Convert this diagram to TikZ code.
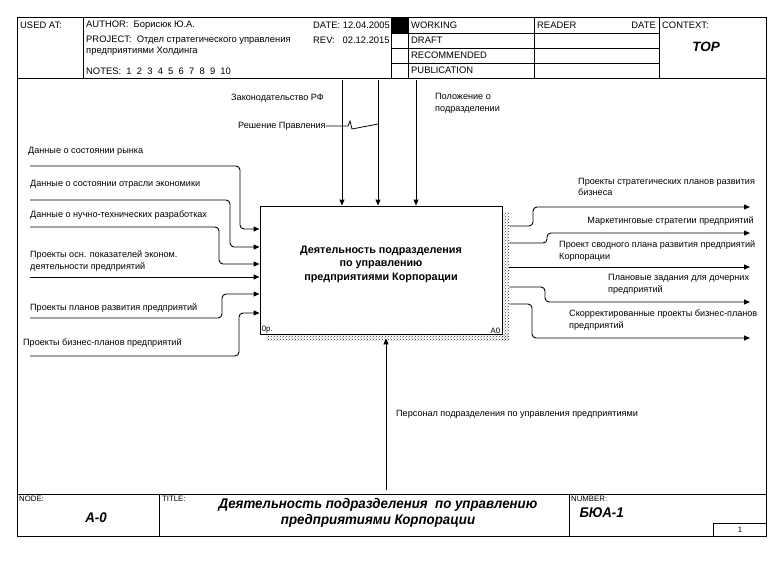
\documentclass[tikz,border=0pt]{standalone}
\usepackage{fontspec}
\setmainfont{Liberation Sans}
\newfontfamily\narrowfont[FakeStretch=0.95]{Liberation Sans}
\usetikzlibrary{arrows.meta,calc,patterns}

\tikzset{
  lbl/.style={font=\fontsize{9.1}{11.8}\selectfont, anchor=west, inner sep=0pt, align=left},
  hdr/.style={font=\fontsize{9.4}{10}\selectfont, anchor=west, inner sep=0pt},
  tiny/.style={font=\fontsize{7.8}{9}\selectfont, anchor=west, inner sep=0pt},
  bigital/.style={font=\narrowfont\fontsize{14}{16}\selectfont\bfseries\itshape},
  flow/.style={line width=0.9pt, rounded corners=4pt, -{Triangle[length=6pt,width=5pt]}},
  frame/.style={line width=0.9pt},
  actbox/.style={draw, line width=0.9pt, minimum width=242pt, minimum height=128pt, inner sep=0pt}
}

\begin{document}
\begin{tikzpicture}[x=1pt,y=-1pt]
\useasboundingbox (0,0) rectangle (784,560);

% Frame and header
\draw[frame] (17,17) rectangle (766,536);
\draw[frame] (17,78) -- (766,78);
\draw[frame] (17,494) -- (766,494);
\foreach \x in {83,391,408,534,659} \draw[frame] (\x,17) -- (\x,78);
\foreach \y in {33,48,63} \draw[frame] (391,\y) -- (659,\y);
\fill[black] (391,17) rectangle (408,33);

\node[hdr] (used) at (20,25) {USED AT:};
\node[hdr] (author) at (86,25) {AUTHOR:\ \ Борисюк Ю.А.};
\node[hdr] (project) at (86,40) {PROJECT:\ \ Отдел стратегического управления};
\node[hdr] (project2) at (86,51) {предприятиями Холдинга};
\node[hdr] (notes) at (86,71) {NOTES:\ \ 1\ \ 2\ \ 3\ \ 4\ \ 5\ \ 6\ \ 7\ \ 8\ \ 9\ \ 10};
\node[hdr] (date) at (313,25) {DATE: 12.04.2005};
\node[hdr] (rev) at (313,40) {REV:\ \ \ 02.12.2015};
\node[hdr] (working) at (411,25) {WORKING};
\node[hdr] (draft) at (411,40) {DRAFT};
\node[hdr] (recom) at (411,55) {RECOMMENDED};
\node[hdr] (public) at (411,70) {PUBLICATION};
\node[hdr] (reader) at (537,25) {READER};
\node[hdr, anchor=east] (rdate) at (656,25) {DATE};
\node[hdr] (context) at (662,25) {CONTEXT:};
\node[font=\fontsize{13.5}{15}\selectfont\bfseries\itshape] (top) at (706,47) {TOP};

% Footer
\foreach \x in {159,569} \draw[frame] (\x,494) -- (\x,536);
\draw[frame] (713,523) rectangle (766,536);
\node[tiny] (node) at (19,499) {NODE:};
\node[bigital] (nodeid) at (96,518) {А-0};
\node[tiny] (title) at (162,499) {TITLE:};
\node[bigital, align=center] (titletxt) at (378,513)
  {Деятельность подразделения\ \ по управлению\\предприятиями Корпорации};
\node[tiny] (number) at (571,499) {NUMBER:};
\node[bigital, anchor=west] (numid) at (576,513) {БЮА-1};
\node[tiny, anchor=center] (page) at (740,530) {1};

% Activity box with shadow
\fill[pattern=crosshatch dots, pattern color=black!80] (502,212) rectangle (509,340);
\fill[pattern=crosshatch dots, pattern color=black!80] (266,334) rectangle (509,340);
\node[actbox, fill=white] (act) at (381,270) {};
\node[font=\fontsize{10.8}{13.5}\selectfont\bfseries, align=center] (acttitle) at (381,264)
  {Деятельность подразделения\\по управлению\\предприятиями Корпорации};
\node[tiny, anchor=south west] (cost) at ([shift={(2,-1)}]act.south west) {0р.};
\node[tiny, anchor=south east] (aid) at ([shift={(-2,-1)}]act.south east) {A0};

% Inputs
\coordinate (i1) at (30,166);
\coordinate (i2) at (30,200);
\coordinate (i3) at (30,227);
\coordinate (i4) at (30,277);
\coordinate (i5) at (30,318);
\coordinate (i6) at (30,356);
\draw[flow] (i1) -| (240,229) -- (act.west |- 0,229);
\draw[flow] (i2) -| (230,247) -- (act.west |- 0,247);
\draw[flow] (i3) -| (219,264) -- (act.west |- 0,264);
\draw[flow] (i4) -- (act.west |- 0,277);
\draw[flow] (i5) -| (222,294) -- (act.west |- 0,294);
\draw[flow] (i6) -| (239,313) -- (act.west |- 0,313);
\node[lbl] (in1) at (28,151) {Данные о состоянии рынка};
\node[lbl] (in2) at (30,184) {Данные о состоянии отрасли экономики};
\node[lbl] (in3) at (30,215) {Данные о нучно-технических разработках};
\node[lbl] (in4) at (30,261) {Проекты осн. показателей эконом.\\деятельности предприятий};
\node[lbl] (in5) at (30,308) {Проекты планов развития предприятий};
\node[lbl] (in6) at (23,343) {Проекты бизнес-планов предприятий};

% Controls
\coordinate (c1) at (342,80);
\coordinate (c2) at (378,80);
\coordinate (c3) at (416,80);
\foreach \c in {c1,c2,c3} \draw[flow] (\c) -- (act.north -| \c);
\node[lbl] (ctl1) at (231,98) {Законодательство РФ};
\node[lbl] (ctl2) at (238,126) {Решение Правления};
\node[lbl] (ctl3) at (435,103) {Положение о\\подразделении};
\draw[line width=0.8pt] (ctl2.east) -- (348,126) -- (350,121) -- (352,129) -- (378,124);

% Outputs
\coordinate (o1) at (750,207);
\coordinate (o2) at (750,233);
\coordinate (o3) at (750,267);
\coordinate (o4) at (750,302);
\coordinate (o5) at (750,338);
\draw[flow] ($(act.east |- 0,226)+(7,0)$) -| (533,207) -- (o1);
\draw[flow] ($(act.east |- 0,243)+(7,0)$) -| (547,233) -- (o2);
\draw[flow] ($(act.east |- 0,267)+(7,0)$) -- (o3);
\draw[flow] ($(act.east |- 0,287)+(7,0)$) -| (545,302) -- (o4);
\draw[flow] ($(act.east |- 0,304)+(7,0)$) -| (532,338) -- (o5);
\node[lbl] (out1) at (578,187) {Проекты стратегических планов развития\\бизнеса};
\node[lbl, anchor=east] (out2) at (754,221) {Маркетинговые стратегии предприятий};
\node[lbl] (out3) at (559,251) {Проект сводного плана развития предприятий\\Корпорации};
\node[lbl] (out4) at (608,284) {Плановые задания для дочерних\\предприятий};
\node[lbl] (out5) at (569,320) {Скорректированные проекты бизнес-планов\\предприятий};

% Mechanism
\coordinate (m1) at (386,490);
\draw[flow] (m1) -- ($(act.south -| m1)+(0,4)$);
\node[lbl] (mech) at (396,414) {Персонал подразделения по управления предприятиями};

\end{tikzpicture}
\end{document}
